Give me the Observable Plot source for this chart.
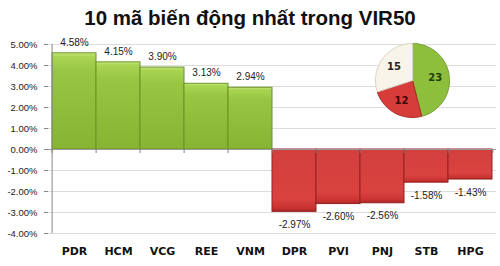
<!DOCTYPE html>
<html>
<head>
<meta charset="utf-8">
<script src="https://cdn.jsdelivr.net/npm/d3@7"></script>
<script src="https://cdn.jsdelivr.net/npm/@observablehq/plot@0.6"></script>
<style>
  html, body { margin: 0; padding: 0; background: #fff; }
  #wrap { position: relative; width: 500px; height: 266px; overflow: hidden; }
  #title { height: 33px; line-height: 36px; text-align: center; font-family: "Liberation Sans", Arial, sans-serif; font-weight: bold; font-size: 20.5px; color: #111; }
  #pie { position: absolute; left: 367px; top: 35px; }
</style>
</head>
<body>
<div id="wrap">
  <div id="title">10 mã biến động nhất trong VIR50</div>
  <div id="chart"></div>
  <div id="pie"></div>
</div>
<script>
const tickers = ["PDR", "HCM", "VCG", "REE", "VNM", "DPR", "PVI", "PNJ", "STB", "HPG"];
const changes = [4.58, 4.15, 3.90, 3.13, 2.94, -2.97, -2.60, -2.56, -1.58, -1.43];
const yTicks = [5, 4, 3, 2, 1, 0, -1, -2, -3, -4];
const pieLabels = ["Tăng", "Giảm", "Đứng giá"];
const pieValues = [23, 12, 15];
const pieColors = ["#8dbf3c", "#d63d3a", "#f8f4ea"];
const pieStrokes = ["#6f9a2a", "#a82a28", "#d8d2c2"];
const pieTextColors = ["#1f3d05", "#3a0808", "#222"];

const rows = tickers.map((t, i) => ({ticker: t, value: changes[i]}));
const fmt = v => v.toFixed(2) + "%";

const W = 500, H = 233, mL = 48, mR = 4;
const bw = (W - mL - mR) / tickers.length;
const FONT = "'Liberation Sans', Arial, sans-serif";

const defs = () => {
  const g = d3.create("svg:g");
  const d = g.append("defs");
  const mk = (id, stops) => {
    const lg = d.append("linearGradient").attr("id", id).attr("x1", 0).attr("y1", 0).attr("x2", 0).attr("y2", 1);
    stops.forEach(([o, c]) => lg.append("stop").attr("offset", o).attr("stop-color", c));
  };
  mk("gGreen", [[0, "#c6e77e"], [0.04, "#a9d552"], [0.2, "#96c642"], [1, "#86b433"]]);
  mk("gRed", [[0, "#d2403d"], [0.8, "#d9423f"], [0.95, "#c83230"], [1, "#a62523"]]);
  return g.node();
};

const chart = Plot.plot({
  width: W, height: H,
  marginLeft: mL, marginRight: mR, marginTop: 11, marginBottom: 33,
  style: {fontFamily: FONT, background: "transparent"},
  x: {domain: tickers, padding: 0, axis: null},
  y: {domain: [-4, 5], axis: null},
  marks: [
    defs,
    Plot.ruleY(yTicks, {stroke: "#dcdcdc", strokeWidth: 1}),
    Plot.barY(rows, {x: "ticker", y: "value",
      fill: d => d.value >= 0 ? "url(#gGreen)" : "url(#gRed)",
      stroke: d => d.value >= 0 ? "#6a9427" : "#962222", strokeWidth: 1}),
    Plot.ruleY([0], {stroke: "#9a9a9a"}),
    Plot.ruleX(tickers, {x: d => d, dx: -bw / 2, y1: 0, y2: -0.19, stroke: "#808080"}),
    Plot.ruleX([tickers[tickers.length - 1]], {x: d => d, dx: bw / 2, y1: 0, y2: -0.19, stroke: "#808080"}),
    Plot.axisY({ticks: yTicks, tickFormat: fmt, tickSize: 4, tickPadding: 7, stroke: "#888",
      fontSize: 9.5, fill: "#222", fontFamily: FONT, label: null}),
    Plot.ruleX([tickers[0]], {x: d => d, dx: -bw / 2, y1: -4, y2: 5, stroke: "#888"}),
    Plot.text(rows.filter(d => d.value >= 0), {x: "ticker", y: "value", text: d => fmt(d.value),
      dy: -11, fontSize: 10, fill: "#222"}),
    Plot.text(rows.filter(d => d.value < 0), {x: "ticker", y: "value", text: d => fmt(d.value),
      dy: 13, fontSize: 10, fill: "#222"}),
    Plot.axisX({tickSize: 0, tickPadding: 14, fontSize: 11, fontWeight: "bold", fill: "#111",
      fontFamily: "'DejaVu Sans', Verdana, sans-serif", label: null})
  ]
});
document.getElementById("chart").appendChild(chart);

// Pie chart built from d3.pie angles
const arcs = d3.pie().sort(null)(pieValues);
const piePts = [];
arcs.forEach((a, i) => {
  const n = Math.max(8, Math.ceil((a.endAngle - a.startAngle) / 0.03));
  piePts.push({k: i, px: 0, py: 0});
  for (let j = 0; j <= n; j++) {
    const t = a.startAngle + (a.endAngle - a.startAngle) * j / n;
    piePts.push({k: i, px: Math.sin(t), py: Math.cos(t)});
  }
  piePts.push({k: i, px: 0, py: 0});
});
const pieText = arcs.map((a, i) => {
  const m = (a.startAngle + a.endAngle) / 2;
  return {k: i, px: 0.62 * Math.sin(m), py: 0.62 * Math.cos(m), v: pieValues[i]};
});

const pieDefs = () => {
  const g = d3.create("svg:g");
  const d = g.append("defs");
  const rg = d.append("radialGradient").attr("id", "pieShade").attr("cx", "0.5").attr("cy", "0.5").attr("r", "0.5");
  rg.append("stop").attr("offset", 0.8).attr("stop-color", "#000").attr("stop-opacity", 0);
  rg.append("stop").attr("offset", 1).attr("stop-color", "#000").attr("stop-opacity", 0.18);
  return g.node();
};

const pie = Plot.plot({
  width: 90, height: 90, margin: 8,
  style: {background: "transparent", fontFamily: "'DejaVu Sans', Verdana, sans-serif"},
  x: {domain: [-1, 1], axis: null},
  y: {domain: [-1, 1], axis: null},
  color: {type: "identity"},
  marks: [
    Plot.line(piePts, {x: "px", y: "py", z: "k",
      fill: d => pieColors[d.k], stroke: d => pieStrokes[d.k], strokeWidth: 1, curve: "linear"}),
    Plot.text(pieText, {x: "px", y: "py", text: "v", fill: d => pieTextColors[d.k],
      fontSize: 10, fontWeight: "bold"})
  ]
});
document.getElementById("pie").appendChild(pie);
</script>
</body>
</html>
